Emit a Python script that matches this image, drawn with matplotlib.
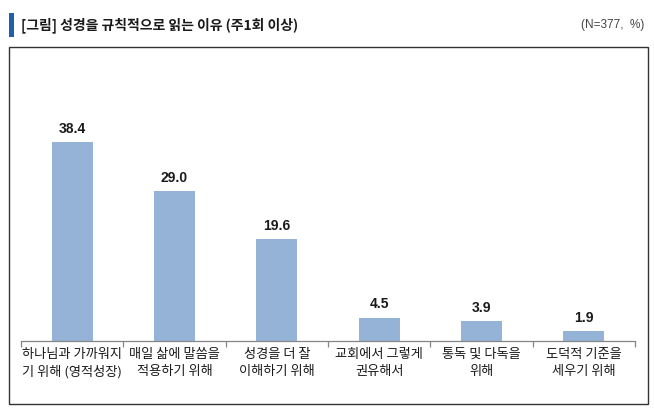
import matplotlib
matplotlib.use("Agg")
import matplotlib.pyplot as plt
from matplotlib.patches import Rectangle
import numpy as np

plt.rcParams['font.family'] = ['Noto Sans CJK KR', 'DejaVu Sans']

categories = ["하나님과 가까워지\n기 위해 (영적성장)", "매일 삶에 말씀을\n적용하기 위해", "성경을 더 잘\n이해하기 위해",
              "교회에서 그렇게\n권유해서", "통독 및 다독을\n위해", "도덕적 기준을\n세우기 위해"]
values = [38.4, 29.0, 19.6, 4.5, 3.9, 1.9]
title = "[그림] 성경을 규칙적으로 읽는 이유 (주1회 이상)"
note = "(N=377,  %)"

W, H = 654, 419
fig = plt.figure(figsize=(W / 100, H / 100), dpi=100)

def fx(x):
    return x / W

def fy(y):
    return 1 - y / H

# title accent bar and frame
fig.patches.append(Rectangle((fx(9), fy(37)), fx(5), 24 / H, transform=fig.transFigure,
                             facecolor="#1F5FAD", edgecolor="none"))
fig.text(fx(21), fy(25), title, fontsize=10, fontweight="bold", va="center", ha="left", color="#1a1a1a")
fig.text(fx(644), fy(25), note, fontsize=8.5, va="center", ha="right", color="#444444",
         family=['Liberation Sans', 'DejaVu Sans'])
fig.patches.append(Rectangle((fx(9), fy(404)), fx(639), (404 - 47) / H, transform=fig.transFigure,
                             facecolor="none", edgecolor="#333333", linewidth=1.0))

ax = fig.add_axes([fx(21), fy(341), fx(635 - 21), (341 - 82) / H])
x = np.arange(len(values))
ax.bar(x, values, width=0.4, color="#95B3D7")
for xi, v in zip(x, values):
    ax.annotate(f"{v:.1f}", (xi, v), xytext=(0, 4.5), textcoords="offset points",
                ha="center", va="bottom", fontsize=10, fontweight="bold", color="#1a1a1a",
                family=['Liberation Sans', 'DejaVu Sans'])
ax.set_xlim(-0.5, len(values) - 0.5)
ax.set_ylim(0, 50)
for s in ["top", "right", "left"]:
    ax.spines[s].set_visible(False)
ax.spines["bottom"].set_color("#868686")
ax.spines["bottom"].set_linewidth(0.9)
ax.set_yticks([])
ax.set_xticks(x)
ax.set_xticklabels(categories, fontsize=9.5, color="#1a1a1a", linespacing=1.4)
ax.tick_params(axis="x", which="major", length=0, pad=5)
ax.set_xticks(np.arange(-0.5, len(values), 1.0), minor=True)
ax.tick_params(axis="x", which="minor", length=4, color="#868686", width=0.9)
ax.patch.set_alpha(0)

fig.savefig("out.png", dpi=100)
